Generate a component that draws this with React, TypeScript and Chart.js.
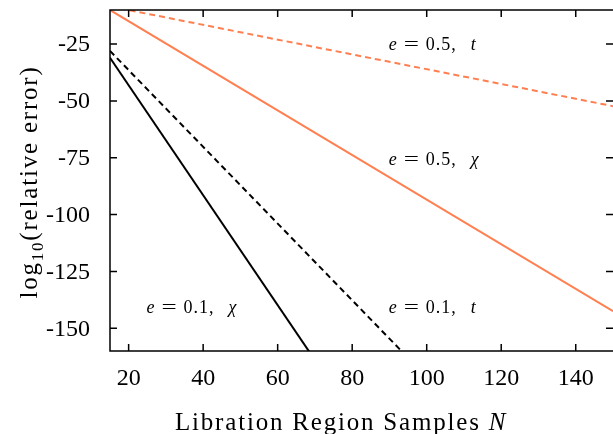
import React, { useEffect, useRef } from "react";
import { Chart, registerables } from "chart.js";

Chart.register(...registerables);

const xTicks = [20, 40, 60, 80, 100, 120, 140];
const yTicks = [-25, -50, -75, -100, -125, -150];

const e05chiN = [15, 150];
const e05chi = [-10, -142.5];
const e05tN = [15, 150];
const e05t = [-8.4, -52.3];
const e01chiN = [15, 70];
const e01chi = [-31, -164];
const e01tN = [15, 95];
const e01t = [-28, -163];

const labelTexts = [
  { e: "0.5", v: "t", x: 89.8, y: -25 },
  { e: "0.5", v: "χ", x: 89.8, y: -75.7 },
  { e: "0.1", v: "χ", x: 24.8, y: -140.7 },
  { e: "0.1", v: "t", x: 89.8, y: -140.7 },
];

const ORANGE = "#ff7f50";
const SERIF = "'Liberation Serif', 'DejaVu Serif', serif";

const pts = (xs: number[], ys: number[]) => xs.map((x, i) => ({ x, y: ys[i] }));

const framePlugin = {
  id: "frame",
  afterDraw(chart: any) {
    const { ctx, chartArea: a, scales } = chart;
    const xs = scales.x;
    const ys = scales.y;
    ctx.save();
    ctx.strokeStyle = "#000";
    ctx.lineWidth = 1.5;
    ctx.beginPath();
    ctx.moveTo(a.right + 2, a.top);
    ctx.lineTo(a.left, a.top);
    ctx.lineTo(a.left, a.bottom);
    ctx.lineTo(a.right + 2, a.bottom);
    ctx.stroke();
    const tl = 7;
    ctx.beginPath();
    xTicks.forEach((t) => {
      const px = xs.getPixelForValue(t);
      ctx.moveTo(px, a.bottom);
      ctx.lineTo(px, a.bottom - tl);
      ctx.moveTo(px, a.top);
      ctx.lineTo(px, a.top + tl);
    });
    yTicks.forEach((t) => {
      const py = ys.getPixelForValue(t);
      ctx.moveTo(a.left, py);
      ctx.lineTo(a.left + tl, py);
      ctx.moveTo(a.right, py);
      ctx.lineTo(a.right - tl, py);
    });
    ctx.stroke();

    // tick labels
    ctx.fillStyle = "#000";
    ctx.font = `24px ${SERIF}`;
    ctx.textAlign = "center";
    ctx.textBaseline = "middle";
    xTicks.forEach((t) => {
      ctx.fillText(String(t), xs.getPixelForValue(t), a.bottom + 28);
    });
    ctx.textAlign = "right";
    yTicks.forEach((t) => {
      ctx.fillText(String(t), a.left - 20, ys.getPixelForValue(t) + 1);
    });

    // x title
    ctx.textBaseline = "alphabetic";
    ctx.textAlign = "left";
    (ctx as any).letterSpacing = "1.8px";
    const main = "Libration Region Samples ";
    ctx.font = `25px ${SERIF}`;
    const w1 = ctx.measureText(main).width;
    const sx = 175;
    ctx.fillText(main, sx, 430);
    ctx.font = `italic 25px ${SERIF}`;
    ctx.fillText("N", sx + w1, 430);

    // y title
    ctx.save();
    ctx.translate(37, 182);
    ctx.rotate(-Math.PI / 2);
    ctx.font = `25px ${SERIF}`;
    const p1 = "log";
    const p2 = "10";
    const p3 = "(relative error)";
    const wa = ctx.measureText(p1).width;
    ctx.font = `17px ${SERIF}`;
    const wb = ctx.measureText(p2).width;
    ctx.font = `25px ${SERIF}`;
    const wc = ctx.measureText(p3).width;
    const tx = -(wa + wb + wc) / 2;
    ctx.fillText(p1, tx, 0);
    ctx.font = `17px ${SERIF}`;
    ctx.fillText(p2, tx + wa, 6);
    ctx.font = `25px ${SERIF}`;
    ctx.fillText(p3, tx + wa + wb, 0);
    ctx.restore();
    (ctx as any).letterSpacing = "0px";

    // series labels
    labelTexts.forEach((l) => {
      const px = xs.getPixelForValue(l.x);
      const py = ys.getPixelForValue(l.y) + 6;
      ctx.font = `italic 18px ${SERIF}`;
      ctx.fillText("e", px, py);
      ctx.save();
      ctx.translate(px + 15, py);
      ctx.scale(1.5, 1);
      ctx.font = `18px ${SERIF}`;
      ctx.fillText("=", 0, 0);
      ctx.restore();
      ctx.font = `18px ${SERIF}`;
      (ctx as any).letterSpacing = "1px";
      ctx.fillText(l.e + ",", px + 37, py);
      (ctx as any).letterSpacing = "0px";
      ctx.font = `italic 18px ${SERIF}`;
      ctx.fillText(l.v, px + 82, py);
    });
    ctx.restore();
  },
};

export default function App() {
  const ref = useRef<HTMLCanvasElement>(null);
  useEffect(() => {
    document.body.style.margin = "0";
    document.body.style.overflow = "hidden";
    const mk = (data: any, color: string, dash: number[]) => ({
      data,
      borderColor: color,
      borderWidth: 2,
      borderDash: dash,
      pointRadius: 0,
      fill: false,
      tension: 0,
    });
    const chart = new Chart(ref.current!, {
      type: "line",
      data: {
        datasets: [
          mk(pts(e05chiN, e05chi), ORANGE, []),
          mk(pts(e05tN, e05t), ORANGE, [6, 4]),
          mk(pts(e01chiN, e01chi), "#000", []),
          mk(pts(e01tN, e01t), "#000", [6, 4]),
        ] as any,
      },
      options: {
        animation: false,
        responsive: false,
        maintainAspectRatio: false,
        layout: { padding: { top: 10, right: 0, left: 0, bottom: 0 } },
        plugins: { legend: { display: false }, tooltip: { enabled: false } },
        scales: {
          x: {
            type: "linear",
            min: 15,
            max: 150,
            grid: { display: false },
            border: { display: false },
            ticks: { display: false },
            afterFit: (s: any) => {
              s.height = 83;
            },
          },
          y: {
            type: "linear",
            min: -160,
            max: -10,
            grid: { display: false },
            border: { display: false },
            ticks: { display: false },
            afterFit: (s: any) => {
              s.width = 110;
            },
          },
        },
      },
      plugins: [framePlugin],
    });
    return () => chart.destroy();
  }, []);
  return (
    <div style={{ width: 613, height: 434 }}>
      <canvas ref={ref} width={613} height={434} style={{ width: 613, height: 434 }} />
    </div>
  );
}
